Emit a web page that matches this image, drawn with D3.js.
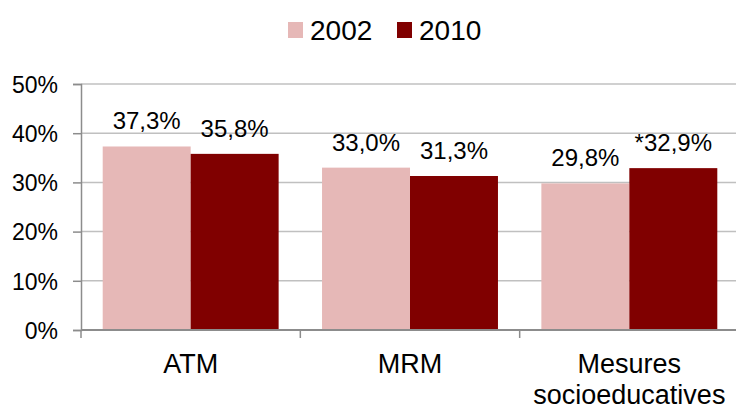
<!DOCTYPE html>
<html><head><meta charset="utf-8">
<script src="https://cdn.jsdelivr.net/npm/d3@7"></script>
<style>body{margin:0;background:#fff}svg{display:block}text{font-family:"Liberation Sans",Arial,sans-serif;fill:#000}</style>
</head><body>
<script>
const categories = [["ATM"], ["MRM"], ["Mesures", "socioeducatives"]];
const seriesNames = ["2002", "2010"];
const values2002 = [37.3, 33.0, 29.8];
const values2010 = [35.8, 31.3, 32.9];
const labels2002 = ["37,3%", "33,0%", "29,8%"];
const labels2010 = ["35,8%", "31,3%", "*32,9%"];
const yTicks = [0, 10, 20, 30, 40, 50];
const colors = ["#e6b8b7", "#800000"];

const W = 736, H = 405;
const svg = d3.select("body").append("svg").attr("width", W).attr("height", H);
const x0 = d3.scaleBand().domain(d3.range(categories.length)).range([81, 739]).paddingInner(0).paddingOuter(0);
const x1 = d3.scaleBand().domain(seriesNames).range([21.7, x0.bandwidth() - 21.7]);
const y = d3.scaleLinear().domain([0, 50]).range([330, 84]);

// gridlines
svg.append("g").selectAll("line").data(yTicks.slice(1)).join("line")
  .attr("x1", 81).attr("x2", W).attr("y1", d => y(d)).attr("y2", d => y(d))
  .attr("stroke", "#c0c0c0").attr("stroke-width", 1.5);

// y axis
const ya = svg.append("g").attr("transform", "translate(81,0)")
  .call(d3.axisLeft(y).tickValues(yTicks).tickFormat(d => d + "%").tickSizeOuter(0).tickSize(8).tickPadding(15));
ya.select(".domain").attr("stroke", "#8c8c8c").attr("stroke-width", 1.5);
ya.selectAll(".tick line").attr("stroke", "#8c8c8c").attr("stroke-width", 1.5);
ya.selectAll(".tick text").attr("font-size", 23).attr("font-family", "Liberation Sans, Arial, sans-serif").attr("fill", "#000").attr("dy", "0.36em");

const series = [values2002, values2010];
const labs = [labels2002, labels2010];
seriesNames.forEach((s, si) => {
  const g = svg.append("g");
  g.selectAll("rect").data(series[si]).join("rect")
    .attr("x", (d, i) => x0(i) + x1(s)).attr("width", x1.bandwidth())
    .attr("y", d => y(d)).attr("height", d => y(0) - y(d)).attr("fill", colors[si]);
  g.selectAll("text").data(series[si]).join("text")
    .attr("x", (d, i) => x0(i) + x1(s) + x1.bandwidth() / 2)
    .attr("y", d => y(d) - 17).attr("text-anchor", "middle").attr("font-size", 24)
    .text((d, i) => labs[si][i]);
});

// x axis
const xa = svg.append("g").attr("transform", "translate(0,330)");
xa.append("line").attr("x1", 81).attr("x2", W).attr("stroke", "#8c8c8c").attr("stroke-width", 2);
xa.selectAll("line.t").data(d3.range(categories.length + 1)).join("line").attr("class", "t")
  .attr("x1", i => i < categories.length ? x0(i) : 739).attr("x2", i => i < categories.length ? x0(i) : 739)
  .attr("y1", 0).attr("y2", 8).attr("stroke", "#8c8c8c").attr("stroke-width", 1.5);
xa.selectAll("text").data(categories).join("text")
  .attr("x", (d, i) => x0(i) + x0.bandwidth() / 2).attr("y", 43)
  .attr("text-anchor", "middle").attr("font-size", 27)
  .each(function(d) {
    d3.select(this).selectAll("tspan").data(d).join("tspan")
      .attr("x", d3.select(this).attr("x")).attr("dy", (t, j) => j ? 31 : 0).text(t => t);
  });

// legend
const leg = svg.append("g");
const legX = [288, 397];
seriesNames.forEach((s, i) => {
  leg.append("rect").attr("x", legX[i]).attr("y", 22).attr("width", 15).attr("height", 16).attr("fill", colors[i]);
  leg.append("text").attr("x", legX[i] + 22).attr("y", 40).attr("font-size", 28).text(s);
});
</script>
</body></html>
